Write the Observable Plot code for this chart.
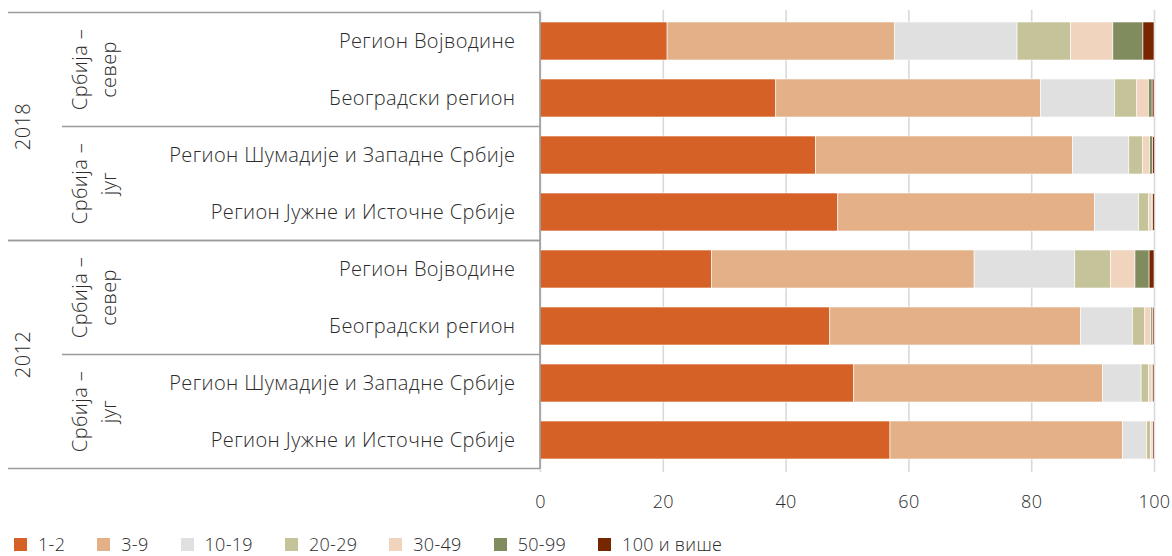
<!DOCTYPE html>
<html><head><meta charset="utf-8">
<script src="https://cdn.jsdelivr.net/npm/d3@7"></script>
<script src="https://cdn.jsdelivr.net/npm/@observablehq/plot@0.6"></script>
<style>
body{margin:0;background:#fff;font-family:"Open Sans",sans-serif;font-weight:300;color:#2b2b2b;overflow:hidden}
#chart svg{display:block;letter-spacing:0.4px}
#legend{display:flex;align-items:center;height:18px;line-height:18px;padding-left:14px;font-size:18px;padding-top:5px;letter-spacing:0.3px}
.item{display:flex;align-items:center;margin-right:32px}
.sw{width:13px;height:13px;margin-right:11px}
</style></head><body><div id="chart"></div><div id="legend"></div>
<script>
const years = ["2018", "2012"];
const groupNames = [["Србија –", "север"], ["Србија –", "југ"]];
const regions = ["Регион Војводине", "Београдски регион", "Регион Шумадије и Западне Србије", "Регион Јужне и Источне Србије"];
const regionGroup = [0, 0, 1, 1];
const categories = ["1-2", "3-9", "10-19", "20-29", "30-49", "50-99", "100 и више"];
const colors = ["#D56127", "#E3B087", "#E0E0E0", "#C5C39A", "#F1D4BE", "#818C5E", "#772600"];
const values2018 = [
  [20.7, 37.0, 20.0, 8.7, 6.9, 4.9, 1.8],
  [38.4, 43.1, 12.1, 3.6, 1.9, 0.6, 0.3],
  [44.9, 41.8, 9.2, 2.2, 1.2, 0.5, 0.3],
  [48.5, 41.8, 7.2, 1.6, 0.5, 0.2, 0.3]
];
const values2012 = [
  [27.9, 42.8, 16.4, 5.8, 4.0, 2.3, 0.8],
  [47.2, 40.8, 8.5, 2.0, 1.0, 0.3, 0.2],
  [51.1, 40.5, 6.3, 1.2, 0.5, 0.2, 0.2],
  [57.0, 37.9, 3.9, 0.6, 0.3, 0.1, 0.2]
];
const xTicks = [0, 20, 40, 60, 80, 100];

const valuesByYear = {"2018": values2018, "2012": values2012};
const keyOf = (yr, r) => yr + "|" + regions[r];
const keys = years.flatMap(yr => regions.map((_, r) => keyOf(yr, r)));
const rows = [];
years.forEach(yr => regions.forEach((reg, r) => categories.forEach((c, ci) => {
  rows.push({key: keyOf(yr, r), cat: c, value: valuesByYear[yr][r][ci]});
})));

const lineColor = "#9a9a9a";
const textColor = "#2b2b2b";
function tableMark(index, scales, values, dim) {
  const y = scales.y;
  const step = y.step(), bw = y.bandwidth();
  const off = (step - bw) / 2;
  const top = k => y(k) - off, bottom = k => y(k) + bw + off;
  const xStart = 8, xGroup = 62, xEnd = dim.marginLeft;
  const xYear = 22, xG1 = 79, xG2 = 108;
  const g = d3.create("svg:g")
    .attr("font-family", "Open Sans, sans-serif").attr("font-weight", 300)
    .attr("fill", textColor).attr("font-size", 20);
  const hline = (yy, x1) => g.append("line").attr("x1", x1).attr("x2", xEnd)
    .attr("y1", yy).attr("y2", yy).attr("stroke", lineColor).attr("stroke-width", 1.6);
  years.forEach(yr => {
    const ks = regions.map((_, r) => keyOf(yr, r));
    const yT = top(ks[0]), yB = bottom(ks[ks.length - 1]);
    hline(yT, xStart); hline(yB, xStart);
    g.append("text").attr("transform", `translate(${xYear},${(yT + yB) / 2}) rotate(-90)`)
      .attr("text-anchor", "middle").attr("dominant-baseline", "central").text(yr);
    groupNames.forEach((gn, gi) => {
      const gk = ks.filter((_, r) => regionGroup[r] === gi);
      const gT = top(gk[0]), gB = bottom(gk[gk.length - 1]);
      if (gi > 0) hline(gT, xGroup);
      const cy = (gT + gB) / 2;
      [xG1, xG2].forEach((xx, li) => {
        g.append("text").attr("transform", `translate(${xx},${cy}) rotate(-90)`)
          .attr("text-anchor", "middle").attr("dominant-baseline", "central").text(gn[li]);
      });
    });
  });
  g.append("line").attr("x1", xEnd).attr("x2", xEnd)
    .attr("y1", top(keys[0])).attr("y2", bottom(keys[keys.length - 1]))
    .attr("stroke", lineColor).attr("stroke-width", 1.6);
  return g.node();
}

const chart = Plot.plot({
  width: 1172,
  height: 530,
  marginLeft: 540,
  marginRight: 18,
  marginTop: 10,
  marginBottom: 58,
  style: {fontFamily: "Open Sans, sans-serif", fontWeight: 300, color: textColor, background: "#fff"},
  x: {domain: [0, 100], axis: null},
  y: {domain: keys, paddingInner: 0.33, paddingOuter: 0.165, axis: null},
  color: {domain: categories, range: colors},
  marks: [
    Plot.gridX(xTicks, {stroke: "#d9d9d9", strokeOpacity: 1, strokeWidth: 1.6}),
    Plot.barX(rows, {x: "value", y: "key", fill: "cat", stroke: "white", strokeWidth: 0.6}),
    Plot.axisX(xTicks, {anchor: "bottom", tickSize: 0, tickPadding: 23, fontSize: 18, label: null}),
    Plot.axisY(keys, {anchor: "left", tickSize: 0, tickPadding: 25, fontSize: 20, label: null,
      tickFormat: k => k.split("|")[1]}),
    tableMark
  ]
});
document.getElementById("chart").appendChild(chart);

const legend = document.getElementById("legend");
categories.forEach((c, i) => {
  const it = document.createElement("div"); it.className = "item";
  const sw = document.createElement("span"); sw.className = "sw"; sw.style.background = colors[i];
  const tx = document.createElement("span"); tx.textContent = c;
  it.appendChild(sw); it.appendChild(tx); legend.appendChild(it);
});
</script></body></html>
